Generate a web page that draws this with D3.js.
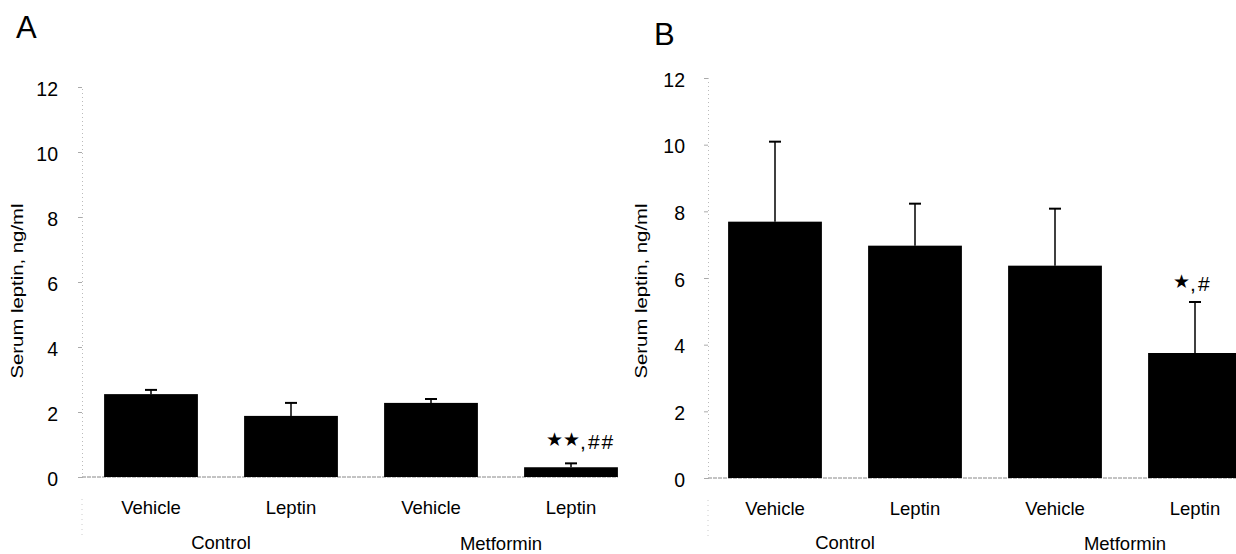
<!DOCTYPE html>
<html>
<head>
<meta charset="utf-8">
<script src="https://cdn.jsdelivr.net/npm/d3@7"></script>
<style>
  body { margin: 0; background: #fff; }
  svg text { font-family: "Liberation Sans", Arial, sans-serif; fill: #000; }
</style>
</head>
<body>
<svg id="chart" width="1236" height="554"></svg>
<script>
// ---- data ----
const categories = ["Vehicle", "Leptin", "Vehicle", "Leptin"];
const groups = ["Control", "Metformin"];
const yTicks = [0, 2, 4, 6, 8, 10, 12];
const meansA = [2.55, 1.88, 2.28, 0.30];
const errA   = [0.13, 0.40, 0.12, 0.12];
const meansB = [7.69, 6.97, 6.37, 3.75];
const errB   = [2.40, 1.26, 1.71, 1.53];
const yTitle = "Serum leptin, ng/ml";

const svg = d3.select("#chart");

function panel(cfg) {
  const g = svg.append("g");
  const x = d3.scaleBand().domain(d3.range(categories.length))
    .range([cfg.x0, cfg.x1]).paddingInner(0.33).paddingOuter(0.165);
  const y = d3.scaleLinear().domain([0, 12]).range([cfg.yb, cfg.yt]);

  // faint dotted y axis
  const ax = g.append("g").attr("transform", `translate(${cfg.ax},0)`)
    .call(d3.axisLeft(y).tickValues(yTicks).tickSize(4).tickPadding(cfg.pad)
      .tickFormat(d3.format("d")));
  ax.select(".domain").attr("stroke", "#bbb").attr("stroke-dasharray", "1,3");
  ax.selectAll(".tick line").attr("stroke", "#aaa");
  ax.selectAll(".tick text").attr("font-size", 19.5).attr("dy", "0.42em")
    .attr("font-family", "Liberation Sans, Arial, sans-serif").attr("fill", "#000");
  // axis continues faintly below zero
  g.append("line").attr("x1", cfg.ax).attr("x2", cfg.ax)
    .attr("y1", y(0) + 22).attr("y2", y(0) + 62)
    .attr("stroke", "#ccc").attr("stroke-dasharray", "1,4");

  // baseline
  g.append("line").attr("x1", cfg.ax).attr("x2", x(3) + x.bandwidth())
    .attr("y1", y(0)).attr("y2", y(0))
    .attr("stroke", "#888").attr("stroke-dasharray", "4,1");

  // bars
  g.selectAll("rect.bar").data(cfg.means).join("rect").attr("class", "bar")
    .attr("x", (d, i) => x(i)).attr("width", x.bandwidth())
    .attr("y", d => y(d)).attr("height", d => y(0) - y(d))
    .attr("fill", "#000");

  // error bars (upper only)
  cfg.means.forEach((m, i) => {
    const cx = x(i) + x.bandwidth() / 2;
    g.append("line").attr("x1", cx).attr("x2", cx)
      .attr("y1", y(m)).attr("y2", y(m + cfg.err[i]))
      .attr("stroke", "#000").attr("stroke-width", 1.5);
    g.append("line").attr("x1", cx - 6).attr("x2", cx + 6)
      .attr("y1", y(m + cfg.err[i])).attr("y2", y(m + cfg.err[i]))
      .attr("stroke", "#000").attr("stroke-width", 2);
  });

  // category labels
  g.selectAll("text.cat").data(categories).join("text").attr("class", "cat")
    .attr("x", (d, i) => x(i) + x.bandwidth() / 2).attr("y", y(0) + 37)
    .attr("text-anchor", "middle").attr("font-size", 18.5).text(d => d);

  // group labels
  groups.forEach((gname, k) => {
    const cx = (x(2 * k) + x(2 * k + 1) + x.bandwidth()) / 2;
    g.append("text").attr("x", cx).attr("y", 549 + k)
      .attr("text-anchor", "middle").attr("font-size", 18.5).text(gname);
  });

  // y title
  g.append("text")
    .attr("transform", `translate(${cfg.tx},${cfg.ty}) rotate(-90)`)
    .attr("text-anchor", "middle").attr("font-size", 16.5)
    .attr("textLength", 175).attr("lengthAdjust", "spacingAndGlyphs")
    .text(yTitle);

  // panel letter
  g.append("text").attr("x", cfg.lx).attr("y", cfg.ly)
    .attr("font-size", 31).text(cfg.letter);

  // significance annotation
  const t = g.append("text").attr("x", cfg.sx).attr("y", cfg.sy);
  t.append("tspan").attr("font-family", "DejaVu Sans").attr("font-size", 19)
    .attr("dy", -3).text(cfg.stars);
  t.append("tspan").attr("font-size", 21).attr("letter-spacing", 2)
    .attr("dy", 3).text(cfg.hashes);
}

panel({ x0: 81, x1: 641, yb: 477, yt: 87, ax: 82, pad: 20, tx: 23, ty: 291,
  lx: 16, ly: 38, letter: "A", means: meansA, err: errA,
  sx: 546, sy: 449, stars: "★★", hashes: ",##" });
panel({ x0: 705, x1: 1265, yb: 478, yt: 78, ax: 708, pad: 19, tx: 647, ty: 291,
  lx: 654, ly: 45, letter: "B", means: meansB, err: errB,
  sx: 1173, sy: 291, stars: "★", hashes: ",#" });
</script>
</body>
</html>
